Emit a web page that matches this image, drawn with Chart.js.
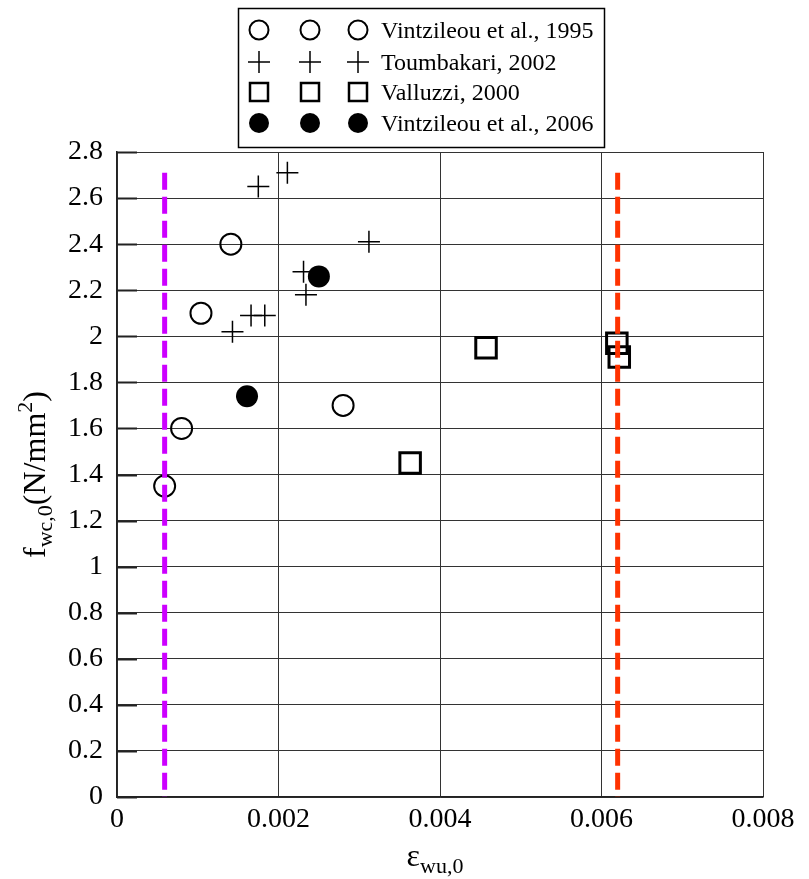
<!DOCTYPE html>
<html>
<head>
<meta charset="utf-8">
<script src="https://cdn.jsdelivr.net/npm/chart.js@4"></script>
<style>
  html, body { margin: 0; padding: 0; background: #fff; }
  #wrap { width: 809px; height: 879px; }
</style>
</head>
<body>
<div id="wrap"><canvas id="c" width="809" height="879"></canvas></div>
<script>
// data
const v1995X = [0.00059, 0.00080, 0.00104, 0.00141, 0.00280];
const v1995Y = [1.35, 1.60, 2.10, 2.40, 1.70];

const toumX = [0.00175, 0.00211, 0.00312, 0.00231, 0.00234, 0.00166, 0.00183, 0.00143];
const toumY = [2.65, 2.71, 2.41, 2.28, 2.18, 2.09, 2.09, 2.02];

const vallX = [0.00363, 0.00457, 0.00619, 0.00622];
const vallY = [1.45, 1.95, 1.97, 1.91];

const v2006X = [0.00250, 0.00161];
const v2006Y = [2.26, 1.74];

// vertical dashed limit lines
const limitMagentaX = 0.00059;
const limitOrangeX = 0.00620;
const limitTop = 2.71;

const legendLabels = ["Vintzileou et al., 1995", "Toumbakari, 2002", "Valluzzi, 2000", "Vintzileou et al., 2006"];

const serif = "'Liberation Serif', 'Times New Roman', serif";

function pts(xs, ys) {
    return xs.map((x, i) => ({ x: x, y: ys[i] }));
}

// marker drawing for the legend box
function marker(ctx, kind, x, y) {
    ctx.save();
    ctx.strokeStyle = "#000";
    ctx.fillStyle = "#000";
    ctx.beginPath();
    if (kind === "circle") {
        ctx.lineWidth = 2;
        ctx.arc(x, y, 9.5, 0, Math.PI * 2);
        ctx.stroke();
    } else if (kind === "cross") {
        ctx.lineWidth = 1.5;
        ctx.moveTo(x - 11, y); ctx.lineTo(x + 11, y);
        ctx.moveTo(x, y - 11); ctx.lineTo(x, y + 11);
        ctx.stroke();
    } else if (kind === "rect") {
        ctx.lineWidth = 2.5;
        ctx.rect(x - 9, y - 9, 18, 18);
        ctx.stroke();
    } else {
        ctx.arc(x, y, 10, 0, Math.PI * 2);
        ctx.fill();
    }
    ctx.restore();
}

const decorations = {
    id: "decorations",
    beforeDatasetsDraw(chart) {
        // short darker tick marks inside the left axis
        const ctx = chart.ctx;
        const area = chart.chartArea;
        const ys = chart.scales.y;
        ctx.save();
        ctx.strokeStyle = "#222";
        ctx.lineWidth = 2;
        ys.ticks.forEach(t => {
            const py = Math.round(ys.getPixelForValue(t.value)) + 0.5;
            ctx.beginPath();
            ctx.moveTo(area.left, py);
            ctx.lineTo(area.left + 20, py);
            ctx.stroke();
        });
        ctx.restore();
    },
    afterDraw(chart) {
        const ctx = chart.ctx;
        const area = chart.chartArea;

        // legend box
        ctx.save();
        ctx.strokeStyle = "#000";
        ctx.lineWidth = 1.5;
        ctx.strokeRect(238.5, 8.5, 366, 139);
        const kinds = ["circle", "cross", "rect", "filled"];
        const rows = [30, 62, 92, 123];
        ctx.font = "24px " + serif;
        ctx.fillStyle = "#000";
        ctx.textBaseline = "alphabetic";
        ctx.textAlign = "left";
        kinds.forEach((k, i) => {
            [259, 310, 358].forEach(mx => marker(ctx, k, mx, rows[i]));
            ctx.fillText(legendLabels[i], 381, rows[i] + 8);
        });
        ctx.restore();

        // x title: epsilon with subscript
        ctx.save();
        ctx.fillStyle = "#000";
        ctx.textBaseline = "alphabetic";
        ctx.textAlign = "left";
        ctx.font = "32px " + serif;
        const eps = "\u03b5";
        const sub = "wu,0";
        const w1 = ctx.measureText(eps).width;
        ctx.font = "22px " + serif;
        const w2 = ctx.measureText(sub).width;
        const cx = (area.left + area.right) / 2 - 5;
        const x0 = cx - (w1 + w2) / 2;
        ctx.font = "32px " + serif;
        ctx.fillText(eps, x0, 866);
        ctx.font = "22px " + serif;
        ctx.fillText(sub, x0 + w1, 873);
        ctx.restore();

        // y title, rotated
        ctx.save();
        ctx.fillStyle = "#000";
        ctx.translate(45, (area.top + area.bottom) / 2);
        ctx.rotate(-Math.PI / 2);
        ctx.textBaseline = "alphabetic";
        ctx.textAlign = "left";
        const parts = [
            { t: "f", f: 32, dy: 0 },
            { t: "wc,0", f: 22, dy: 7 },
            { t: "(N/mm", f: 32, dy: 0 },
            { t: "2", f: 22, dy: -13 },
            { t: ")", f: 32, dy: 0 }
        ];
        let total = 0;
        parts.forEach(p => { ctx.font = p.f + "px " + serif; p.w = ctx.measureText(p.t).width; total += p.w; });
        let px = -total / 2;
        parts.forEach(p => {
            ctx.font = p.f + "px " + serif;
            ctx.fillText(p.t, px, p.dy);
            px += p.w;
        });
        ctx.restore();
    }
};

new Chart(document.getElementById("c"), {
    type: "scatter",
    data: {
        datasets: [
            {
                data: [{ x: limitMagentaX, y: limitTop }, { x: limitMagentaX, y: 0 }],
                showLine: true, pointRadius: 0, borderColor: "#cc00ff",
                borderWidth: 5, borderDash: [17, 7], borderCapStyle: "butt", order: 0
            },
            {
                data: [{ x: limitOrangeX, y: limitTop }, { x: limitOrangeX, y: 0 }],
                showLine: true, pointRadius: 0, borderColor: "#ff3300",
                borderWidth: 5, borderDash: [17, 7], borderCapStyle: "butt", order: 0
            },
            {
                label: legendLabels[0], data: pts(v1995X, v1995Y),
                pointStyle: "circle", pointRadius: 10.5, borderWidth: 2,
                borderColor: "#000", backgroundColor: "rgba(0,0,0,0)", order: 1
            },
            {
                label: legendLabels[1], data: pts(toumX, toumY),
                pointStyle: "cross", pointRadius: 11, borderWidth: 1.5,
                borderColor: "#000", backgroundColor: "#000", order: 1
            },
            {
                label: legendLabels[2], data: pts(vallX, vallY),
                pointStyle: "rect", pointRadius: 14.5, borderWidth: 3,
                borderColor: "#000", backgroundColor: "rgba(0,0,0,0)", order: 1
            },
            {
                label: legendLabels[3], data: pts(v2006X, v2006Y),
                pointStyle: "circle", pointRadius: 11, borderWidth: 0,
                borderColor: "#000", backgroundColor: "#000", order: 1
            }
        ]
    },
    options: {
        responsive: false,
        animation: false,
        layout: { padding: { top: 152, right: 46, bottom: 0, left: 0 } },
        plugins: {
            legend: { display: false },
            tooltip: { enabled: false }
        },
        scales: {
            x: {
                type: "linear",
                min: 0, max: 0.008,
                afterFit: s => { s.height = 82; },
                ticks: {
                    stepSize: 0.002,
                    padding: 6,
                    color: "#000",
                    font: { family: serif, size: 28 },
                    callback: v => String(Number(v.toFixed(3)))
                },
                grid: { color: "#333", lineWidth: 1, drawTicks: false },
                border: { color: "#222", width: 1.5 }
            },
            y: {
                min: 0, max: 2.8,
                afterFit: s => { s.width = 117; },
                ticks: {
                    stepSize: 0.2,
                    padding: 14,
                    color: "#000",
                    font: { family: serif, size: 28 },
                    callback: v => String(Number(v.toFixed(1)))
                },
                grid: { color: "#333", lineWidth: 1, drawTicks: false },
                border: { color: "#222", width: 1.5 }
            }
        }
    },
    plugins: [decorations]
});
</script>
</body>
</html>
